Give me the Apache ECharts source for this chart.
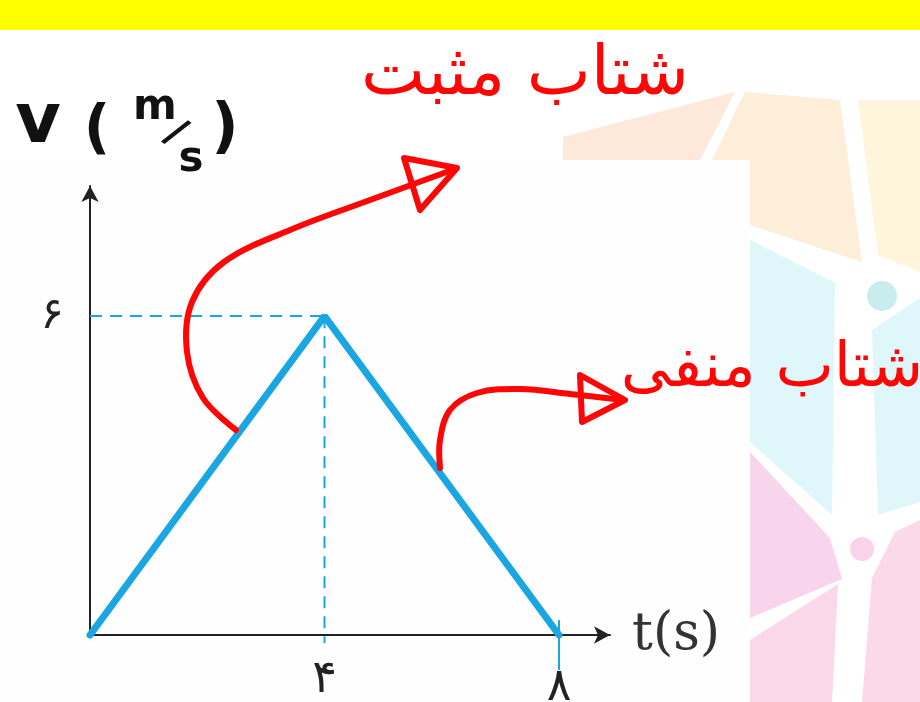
<!DOCTYPE html>
<html>
<head>
<meta charset="utf-8">
<script src="https://cdn.jsdelivr.net/npm/echarts@6/dist/echarts.min.js"></script>
<style>
  html, body { margin: 0; padding: 0; background: #fff; }
  #main { width: 920px; height: 702px; }
</style>
</head>
<body>
<div id="main"></div>
<script>
  // v-t graph data
  const timeData = [0, 4, 8]
  const velocityData = [0, 6, 0]
  const xTickValues = [4, 8]
  const yTickValues = [6]
  const persianDigits = ['۰', '۱', '۲', '۳', '۴', '۵', '۶', '۷', '۸', '۹']
  const xName = 't(s)'
  const posLabel = 'شتاب مثبت'
  const negLabel = 'شتاب منفی'

  const toFa = (v) => String(v).replace(/\d/g, (d) => persianDigits[+d])

  const blue = '#1aa7e1'
  const red = '#ff0505'
  const axisColor = '#222'

  const peakIdx = velocityData.indexOf(Math.max(...velocityData))
  const peakT = timeData[peakIdx]
  const peakV = velocityData[peakIdx]
  const endT = timeData[timeData.length - 1]

  const chart = echarts.init(document.getElementById('main'))

  // pastel background pattern (decoration)
  const bgPolys = [
    { pts: [[563, 137], [735, 92], [700, 160], [563, 160]], color: '#fde8da' },
    { pts: [[745, 92], [840, 100], [862, 262], [750, 225], [712, 160]], color: '#fdeeda' },
    { pts: [[858, 100], [920, 100], [920, 272], [878, 255]], color: '#fef5dc' },
    { pts: [[750, 240], [835, 283], [832, 515], [750, 442]], color: '#dff6fb' },
    { pts: [[872, 330], [920, 298], [920, 502], [878, 515]], color: '#dff6fb' },
    { pts: [[750, 452], [830, 538], [842, 579], [750, 618]], color: '#f8d5ec' },
    { pts: [[750, 640], [838, 584], [832, 702], [750, 702]], color: '#fad8ea' },
    { pts: [[895, 532], [920, 520], [920, 702], [862, 702], [872, 578]], color: '#fbd9e6' }
  ]
  const graphics = bgPolys.map((p) => ({
    type: 'polygon',
    z: -20,
    silent: true,
    shape: { points: p.pts },
    style: { fill: p.color }
  }))
  graphics.push(
    { type: 'circle', z: -19, silent: true, shape: { cx: 882, cy: 296, r: 15 }, style: { fill: '#c9ecef' } },
    { type: 'circle', z: -19, silent: true, shape: { cx: 862, cy: 549, r: 12 }, style: { fill: '#f8d3ea' } },
    // white paper behind the figure
    { type: 'rect', z: -15, silent: true, shape: { x: 0, y: 160, width: 750, height: 542 }, style: { fill: '#fefefe' } },
    // yellow header band
    { type: 'rect', z: -15, silent: true, shape: { x: 0, y: 0, width: 920, height: 30 }, style: { fill: '#ffff00' } }
  )

  // handwritten axis title v (m/s)
  const hand = { fill: '#111', fontFamily: 'DejaVu Sans', fontWeight: 'bold', align: 'center', verticalAlign: 'middle' }
  const vParts = [
    { t: 'v', x: 38, y: 124, s: 70 },
    { t: '(', x: 97, y: 132, s: 58 },
    { t: 'm', x: 155, y: 108, s: 42 },
    { t: '/', x: 175, y: 134, s: 40, r: -0.6 },
    { t: 's', x: 191, y: 160, s: 42 },
    { t: ')', x: 225, y: 130, s: 60 }
  ]
  vParts.forEach((p) => {
    graphics.push({
      type: 'text', z: 50, silent: true,
      x: p.x, y: p.y, rotation: p.r || 0,
      style: Object.assign({}, hand, { text: p.t, fontSize: p.s })
    })
  })

  // red hand-drawn notes
  const redLine = { stroke: red, lineWidth: 6, lineCap: 'round', lineJoin: 'round', fill: null }
  graphics.push(
    {
      type: 'polyline', z: 60, silent: true,
      shape: { points: [[236, 430], [203, 398], [187, 352], [192, 302], [224, 262], [290, 230], [370, 200], [452, 170]], smooth: 0.35 },
      style: redLine
    },
    {
      type: 'polygon', z: 60, silent: true,
      shape: { points: [[404, 158], [457, 168], [420, 210]] },
      style: redLine
    },
    {
      type: 'polyline', z: 60, silent: true,
      shape: { points: [[440, 468], [440, 440], [450, 410], [477, 393], [520, 389], [570, 394], [623, 400]], smooth: 0.35 },
      style: redLine
    },
    {
      type: 'polygon', z: 60, silent: true,
      shape: { points: [[580, 375], [625, 400], [582, 422]] },
      style: redLine
    },
    {
      type: 'text', z: 60, silent: true, x: 525, y: 76,
      style: { text: posLabel, fill: red, fontFamily: 'DejaVu Sans', fontSize: 68, align: 'center', verticalAlign: 'middle' }
    },
    {
      type: 'text', z: 60, silent: true, x: 772, y: 370,
      style: { text: negLabel, fill: red, fontFamily: 'DejaVu Sans', fontSize: 62, align: 'center', verticalAlign: 'middle' }
    }
  )

  const option = {
    backgroundColor: '#ffffff',
    animation: false,
    graphic: graphics,
    grid: {
      left: 90,
      right: 310,
      top: 186,
      bottom: 67,
      containLabel: false,
      outerBoundsMode: 'none'
    },
    xAxis: {
      type: 'value',
      min: 0,
      max: 8.87,
      name: xName,
      nameLocation: 'end',
      nameGap: 22,
      nameTextStyle: {
        fontFamily: 'DejaVu Serif',
        fontSize: 52,
        color: '#333',
        verticalAlign: 'middle',
        padding: [0, 0, 26, 0]
      },
      axisLine: {
        show: true,
        symbol: ['none', 'arrow'],
        symbolSize: [13, 16],
        lineStyle: { color: axisColor, width: 2 }
      },
      axisTick: { show: false },
      splitLine: { show: false },
      axisLabel: {
        customValues: xTickValues,
        margin: 22,
        fontFamily: 'DejaVu Sans',
        fontSize: 46,
        color: axisColor,
        formatter: (v) => (v === endT ? '{lo|' + toFa(v) + '}' : toFa(v)),
        rich: {
          lo: { fontFamily: 'DejaVu Sans', fontSize: 46, color: axisColor, padding: [8, 0, 0, 0] }
        }
      }
    },
    yAxis: {
      type: 'value',
      min: 0,
      max: 8.45,
      axisLine: {
        show: true,
        symbol: ['none', 'arrow'],
        symbolSize: [13, 16],
        lineStyle: { color: axisColor, width: 2 }
      },
      axisTick: { show: false },
      splitLine: { show: false },
      axisLabel: {
        customValues: yTickValues,
        margin: 26,
        fontFamily: 'DejaVu Sans',
        fontSize: 44,
        color: axisColor,
        formatter: (v) => toFa(v)
      }
    },
    series: [
      {
        type: 'line',
        data: timeData.map((t, i) => [t, velocityData[i]]),
        showSymbol: false,
        clip: false,
        lineStyle: { color: blue, width: 7, cap: 'round' },
        markLine: {
          silent: true,
          symbol: 'none',
          label: { show: false },
          data: [
            [
              { coord: [0, peakV], lineStyle: { color: blue, width: 2, type: [12, 8] } },
              { coord: [peakT, peakV] }
            ]
          ]
        }
      }
    ]
  }

  chart.setOption(option)

  // guides that run past the axis: vertical dashed line from the peak, tick at the end time
  const toPx = (pt) => chart.convertToPixel({ seriesIndex: 0 }, pt)
  const peakPx = toPx([peakT, peakV])
  const peakFoot = toPx([peakT, -0.15])
  const endTop = toPx([endT, 0.28])
  const endBottom = toPx([endT, -0.66])
  chart.setOption({
    graphic: graphics.concat([
      {
        type: 'line', z: 1, silent: true,
        shape: { x1: peakPx[0], y1: peakPx[1], x2: peakFoot[0], y2: peakFoot[1] },
        style: { stroke: blue, lineWidth: 2, lineDash: [12, 8] }
      },
      {
        type: 'line', z: 1, silent: true,
        shape: { x1: endTop[0], y1: endTop[1], x2: endBottom[0], y2: endBottom[1] },
        style: { stroke: blue, lineWidth: 2 }
      }
    ])
  })
</script>
</body>
</html>
